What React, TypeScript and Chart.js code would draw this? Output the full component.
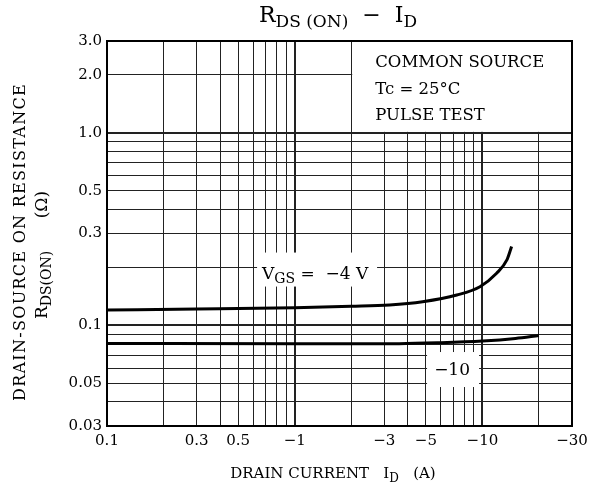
import React, { useEffect, useRef } from "react";
import { Chart, registerables } from "chart.js";

Chart.register(...registerables);

// ---- data ----
const vgs4Current = [0.1, 0.3, 1, 2, 3.2, 4.8, 7.3, 9.7, 11.9, 13.5, 14.3];
const vgs4Resistance = [0.12, 0.1215, 0.1235, 0.1255, 0.1275, 0.1326, 0.1437, 0.1587, 0.1864, 0.2186, 0.2565];

const vgs10Current = [0.1, 1, 3.6, 6, 10, 15, 20];
const vgs10Resistance = [0.0805, 0.0803, 0.0803, 0.0812, 0.0829, 0.0855, 0.0885];

// grid (tick) values
const xGridValues = [0.1, 0.2, 0.3, 0.4, 0.5, 0.6, 0.7, 0.8, 0.9, 1, 2, 3, 4, 5, 6, 7, 8, 9, 10, 20, 30];
const yGridValues = [0.03, 0.04, 0.05, 0.06, 0.07, 0.08, 0.09, 0.1, 0.2, 0.3, 0.4, 0.5, 0.6, 0.7, 0.8, 0.9, 1, 2, 3];

// labelled ticks
const xLabelValues = [0.1, 0.3, 0.5, 1, 3, 5, 10, 30];
const xLabelTexts = ["0.1", "0.3", "0.5", "\u22121", "\u22123", "\u22125", "\u221210", "\u221230"];
const yLabelValues = [0.03, 0.05, 0.1, 0.3, 0.5, 1, 2, 3];
const yLabelTexts = ["0.03", "0.05", "0.1", "0.3", "0.5", "1.0", "2.0", "3.0"];

const xMajor = [1, 10];
const yMajor = [0.1, 1];

const FONT = '"DejaVu Serif", serif';

type Part = { text: string; size: number; dy?: number };

function richWidth(ctx: CanvasRenderingContext2D, parts: Part[]) {
  let w = 0;
  for (const p of parts) {
    ctx.font = `${p.size}px ${FONT}`;
    w += ctx.measureText(p.text).width;
  }
  return w;
}

function drawRich(
  ctx: CanvasRenderingContext2D,
  parts: Part[],
  x: number,
  y: number,
  align: "left" | "center"
) {
  const total = richWidth(ctx, parts);
  let cx = align === "center" ? x - total / 2 : x;
  ctx.textAlign = "left";
  ctx.textBaseline = "alphabetic";
  for (const p of parts) {
    ctx.font = `${p.size}px ${FONT}`;
    ctx.fillText(p.text, cx, y + (p.dy || 0));
    cx += ctx.measureText(p.text).width;
  }
  return total;
}

function drawSpaced(ctx: CanvasRenderingContext2D, text: string, size: number, target: number, y: number) {
  ctx.font = `${size}px ${FONT}`;
  (ctx as any).letterSpacing = "0px";
  const w = ctx.measureText(text).width;
  const sp = Math.max(0, (target - w) / text.length);
  (ctx as any).letterSpacing = `${sp}px`;
  ctx.textAlign = "left";
  ctx.textBaseline = "alphabetic";
  ctx.fillText(text, -target / 2, y);
  (ctx as any).letterSpacing = "0px";
}

const decorPlugin = {
  id: "decor",
  beforeDatasetsDraw(chart: any) {
    const { ctx, chartArea } = chart;
    const xs = chart.scales.x;
    const ys = chart.scales.y;
    ctx.save();
    ctx.fillStyle = "#fff";
    // annotation box (no grid)
    const bx = xs.getPixelForValue(2) + 1;
    const by = ys.getPixelForValue(1) - 1;
    ctx.fillRect(bx, chartArea.top, chartArea.right - bx, by - chartArea.top);
    // VGS label background
    const vx = xs.getPixelForValue(0.67);
    const vy = ys.getPixelForValue(0.175);
    ctx.fillRect(vx - 5, vy - 26, 120, 34);
    // -10 label background
    const tx = xs.getPixelForValue(6.89);
    const ty = ys.getPixelForValue(0.0593);
    ctx.fillRect(tx - 25, ty - 17, 52, 35);
    ctx.restore();
  },
  afterDatasetsDraw(chart: any) {
    const { ctx, chartArea } = chart;
    const xs = chart.scales.x;
    const ys = chart.scales.y;
    ctx.save();
    ctx.strokeStyle = "#000";
    ctx.lineWidth = 2;
    ctx.strokeRect(chartArea.left, chartArea.top, chartArea.right - chartArea.left, chartArea.bottom - chartArea.top);
    ctx.fillStyle = "#000";
    // box text
    const lx = xs.getPixelForValue(2) + 24;
    drawRich(ctx, [{ text: "COMMON SOURCE", size: 16.5 }], lx, chartArea.top + 26, "left");
    drawRich(ctx, [{ text: "Tc = 25\u00B0C", size: 16.5 }], lx, chartArea.top + 53, "left");
    drawRich(ctx, [{ text: "PULSE TEST", size: 16.5 }], lx, chartArea.top + 79, "left");
    // curve labels
    const vx = xs.getPixelForValue(0.67);
    const vy = ys.getPixelForValue(0.175);
    drawRich(
      ctx,
      [
        { text: "V", size: 17 },
        { text: "GS", size: 14, dy: 4 },
        { text: " =  \u22124 V", size: 17 },
      ],
      vx,
      vy,
      "left"
    );
    const tx = xs.getPixelForValue(6.89);
    const ty = ys.getPixelForValue(0.0593);
    drawRich(ctx, [{ text: "\u221210", size: 17 }], tx, ty + 6, "center");
    ctx.restore();
  },
  afterDraw(chart: any) {
    const { ctx } = chart;
    ctx.save();
    ctx.fillStyle = "#000";
    // title
    drawRich(
      ctx,
      [
        { text: "R", size: 22 },
        { text: "DS (ON)", size: 17, dy: 5 },
        { text: "  \u2212  I", size: 22 },
        { text: "D", size: 17, dy: 5 },
      ],
      338,
      22,
      "center"
    );
    // x axis title
    drawRich(
      ctx,
      [
        { text: "DRAIN CURRENT   I", size: 15 },
        { text: "D", size: 12, dy: 4 },
        { text: "   (A)", size: 15 },
      ],
      333,
      478,
      "center"
    );
    // y axis title (rotated)
    ctx.save();
    ctx.translate(19, 242);
    ctx.rotate(-Math.PI / 2);
    drawSpaced(ctx, "DRAIN-SOURCE ON RESISTANCE", 16, 318, 6);
    ctx.restore();
    ctx.save();
    ctx.translate(41, 255);
    ctx.rotate(-Math.PI / 2);
    drawRich(
      ctx,
      [
        { text: "R", size: 17 },
        { text: "DS(ON)", size: 14, dy: 4 },
        { text: "      (\u03A9)", size: 17 },
      ],
      0,
      6,
      "center"
    );
    ctx.restore();
    ctx.restore();
  },
};

export default function App() {
  const canvasRef = useRef<HTMLCanvasElement | null>(null);

  useEffect(() => {
    if (!canvasRef.current) return;
    const gridLineWidth = (major: number[]) => (c: any) =>
      c.tick && major.includes(c.tick.value) ? 2 : 1;

    const chart = new Chart(canvasRef.current, {
      type: "scatter",
      data: {
        datasets: [
          {
            label: "VGS = -4 V",
            data: vgs4Current.map((x, i) => ({ x, y: vgs4Resistance[i] })),
            showLine: true,
            borderColor: "#000",
            borderWidth: 3,
            pointRadius: 0,
            cubicInterpolationMode: "monotone",
          },
          {
            label: "VGS = -10 V",
            data: vgs10Current.map((x, i) => ({ x, y: vgs10Resistance[i] })),
            showLine: true,
            borderColor: "#000",
            borderWidth: 3,
            pointRadius: 0,
            cubicInterpolationMode: "monotone",
          },
        ],
      },
      options: {
        animation: false,
        responsive: true,
        maintainAspectRatio: false,
        layout: { padding: { left: 37, top: 41, right: 26, bottom: 35 } },
        plugins: { legend: { display: false }, tooltip: { enabled: false }, title: { display: false } },
        scales: {
          x: {
            type: "logarithmic",
            min: 0.1,
            max: 30,
            afterBuildTicks: (s: any) => {
              s.ticks = xGridValues.map((v) => ({ value: v }));
            },
            afterFit: (s: any) => {
              s.height = 30;
            },
            ticks: {
              autoSkip: false,
              maxRotation: 0,
              padding: 6,
              color: "#000",
              font: { family: FONT, size: 15 },
              callback: (v: any) => {
                const i = xLabelValues.findIndex((lv) => Math.abs(lv - Number(v)) < 1e-9);
                return i >= 0 ? xLabelTexts[i] : "";
              },
            },
            grid: { color: "#222", lineWidth: gridLineWidth(xMajor), drawTicks: false },
            border: { display: false },
          },
          y: {
            type: "logarithmic",
            min: 0.03,
            max: 3,
            afterBuildTicks: (s: any) => {
              s.ticks = yGridValues.map((v) => ({ value: v }));
            },
            afterFit: (s: any) => {
              s.width = 70;
            },
            ticks: {
              autoSkip: false,
              padding: 5,
              color: "#000",
              font: { family: FONT, size: 15 },
              callback: (v: any) => {
                const i = yLabelValues.findIndex((lv) => Math.abs(lv - Number(v)) < 1e-9);
                return i >= 0 ? yLabelTexts[i] : "";
              },
            },
            grid: { color: "#222", lineWidth: gridLineWidth(yMajor), drawTicks: false },
            border: { display: false },
          },
        },
      },
      plugins: [decorPlugin],
    });
    return () => chart.destroy();
  }, []);

  return (
    <div style={{ position: "fixed", left: 0, top: 0, width: 598, height: 491, background: "#fff" }}>
      <canvas ref={canvasRef} />
    </div>
  );
}
